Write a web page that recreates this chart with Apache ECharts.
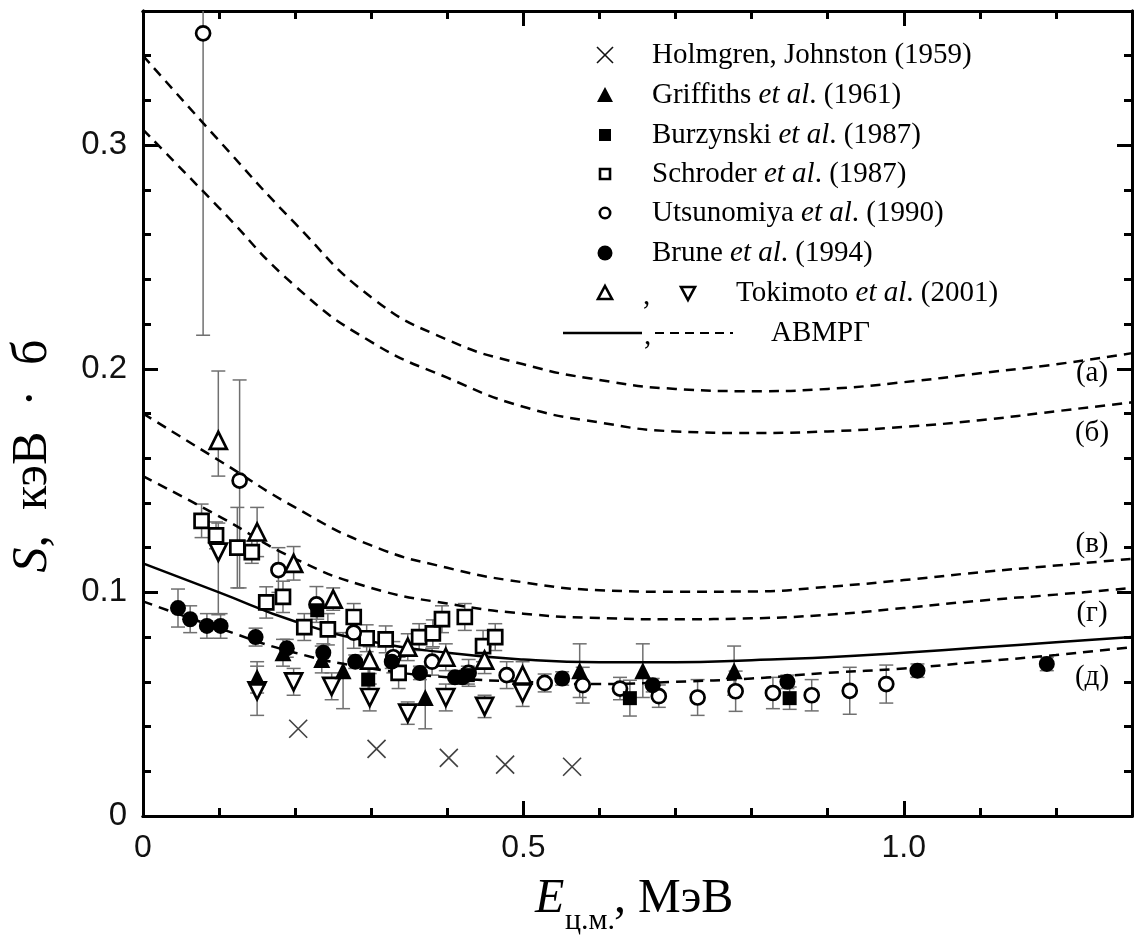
<!DOCTYPE html>
<html><head><meta charset="utf-8">
<script src="https://cdn.jsdelivr.net/npm/echarts@6/dist/echarts.min.js"></script>
<style>html,body{margin:0;padding:0;background:#fff}#c{width:1135px;height:936px}</style>
</head><body><div id="c"></div>
<script>
// ---- data: [E, S, err] or [E, S, errMinus, errPlus] ----
const holmgren = [[0.204,0.039],[0.307,0.030],[0.402,0.026],[0.476,0.023],[0.564,0.022]];
const griffiths = [[0.150,0.062,0.007],[0.184,0.073,0.006],[0.235,0.070,0.006],[0.263,0.065,0.017],[0.371,0.053,0.014],[0.574,0.065,0.012],[0.657,0.065,0.012],[0.777,0.065,0.011]];
const burzynski = [[0.229,0.092,0.004],[0.296,0.061,0.005],[0.427,0.063,0.004],[0.640,0.0527,0.008],[0.850,0.0527,0.005]];
const schroder = [[0.077,0.132,0.0075],[0.096,0.1255,0.006],[0.124,0.120,0.018],[0.143,0.118,0.005],[0.162,0.0955,0.007],[0.184,0.098,0.007],[0.212,0.0845,0.006],[0.243,0.0835,0.007],[0.277,0.089,0.006],[0.294,0.0795,0.006],[0.319,0.079,0.006],[0.336,0.064,0.007],[0.363,0.080,0.006],[0.381,0.0817,0.006],[0.393,0.088,0.006],[0.423,0.089,0.006],[0.447,0.076,0.007],[0.463,0.080,0.006]];
const utsunomiya = [[0.079,0.350,0.135],[0.127,0.150,0.048,0.045],[0.178,0.110,0.010],[0.228,0.0946,0.008],[0.277,0.082,0.007],[0.329,0.071,0.007],[0.380,0.069,0.006],[0.428,0.064,0.006],[0.478,0.063,0.006],[0.528,0.0595,0.004],[0.578,0.0585,0.008],[0.627,0.057,0.005],[0.678,0.0536,0.005],[0.729,0.053,0.008],[0.779,0.0558,0.009],[0.828,0.055,0.007],[0.879,0.054,0.007],[0.929,0.056,0.0105],[0.977,0.059,0.0085]];
const brune = [[0.046,0.093,0.0085],[0.062,0.088,0.006],[0.084,0.085,0.0055],[0.102,0.085,0.0055],[0.148,0.080,0.004],[0.189,0.075,0.004],[0.237,0.073,0.004],[0.279,0.069,0.003],[0.327,0.069,0.003],[0.364,0.064,0.003],[0.410,0.062,0.003],[0.420,0.062,0.003],[0.551,0.0615,0.003],[0.670,0.0585,0.003],[0.847,0.060,0.003],[1.018,0.065,0.003],[1.188,0.068,0.003]];
const tokimotoUp = [[0.099,0.168,0.016,0.031],[0.150,0.127,0.011],[0.198,0.113,0.0075],[0.250,0.097,0.005],[0.298,0.0697,0.006],[0.348,0.0755,0.006],[0.398,0.071,0.006],[0.449,0.0697,0.006],[0.499,0.063,0.006]];
const tokimotoDown = [[0.099,0.118,0.028,0.013],[0.150,0.056,0.011],[0.198,0.060,0.006],[0.248,0.058,0.006],[0.298,0.053,0.006],[0.348,0.046,0.005],[0.398,0.053,0.006],[0.449,0.049,0.005],[0.499,0.055,0.006]];

// ---- model curves (read every 0.1 MeV) ----
const curveE = [0,0.1,0.2,0.3,0.4,0.5,0.6,0.7,0.8,0.9,1.0,1.1,1.2,1.3];
const curveA = [0.340,0.302,0.265,0.232,0.213,0.202,0.195,0.191,0.190,0.191,0.194,0.198,0.202,0.207];
const curveB = [0.307,0.272,0.237,0.212,0.196,0.183,0.176,0.172,0.1713,0.172,0.174,0.177,0.181,0.185];
const curveV = [0.180,0.159,0.138,0.121,0.111,0.1045,0.101,0.1003,0.1004,0.1025,0.1055,0.109,0.112,0.115];
const curveG = [0.152,0.134,0.115,0.102,0.095,0.0905,0.0885,0.088,0.0884,0.090,0.093,0.0963,0.099,0.102];
const curveSolid = [0.113,0.100,0.087,0.078,0.073,0.070,0.0688,0.0688,0.0697,0.071,0.073,0.0753,0.0777,0.080];
const curveD = [0.096,0.084,0.073,0.066,0.062,0.060,0.059,0.060,0.0615,0.064,0.066,0.069,0.072,0.0755];

const xTickValues = [0, 0.5, 1.0];
const xTickLabels = ['0', '0.5', '1.0'];
const yTickValues = [0, 0.1, 0.2, 0.3];
const yTickLabels = ['0', '0.1', '0.2', '0.3'];
const curveLabels = ['(а)', '(б)', '(в)', '(г)', '(д)'];
const legendNames = ['Holmgren, Johnston (1959)', 'Griffiths {i|et al}. (1961)', 'Burzynski {i|et al}. (1987)', 'Schroder {i|et al}. (1987)', 'Utsunomiya {i|et al}. (1990)', 'Brune {i|et al}. (1994)', 'Tokimoto {i|et al}. (2001)', 'АВМРГ'];

const X_MIN = 0, X_MAX = 1.3, Y_MIN = 0, Y_MAX = 0.36;

function lookupLabel(vals, labels) {
  return function (v) {
    for (let i = 0; i < vals.length; i++) if (Math.abs(v - vals[i]) < 1e-9) return labels[i];
    return '';
  };
}
function errRows(arr) {
  return arr.map(d => {
    const lo = d[2], hi = d.length > 3 ? d[3] : d[2];
    return [d[0], d[1] - lo, d[1] + hi];
  });
}
const allErr = [].concat(errRows(griffiths), errRows(burzynski), errRows(schroder), errRows(utsunomiya), errRows(brune), errRows(tokimotoUp), errRows(tokimotoDown));

const serif = 'Liberation Serif';
const sans = 'Liberation Sans';
const axisLineStyle = { color: '#000', width: 3 };

function mkX(pos, interval, len, labels) {
  return {
    type: 'value', min: X_MIN, max: X_MAX, interval: interval, position: pos,
    axisLine: { show: true, onZero: false, lineStyle: axisLineStyle },
    axisTick: { show: true, inside: true, length: len, lineStyle: { color: '#000', width: 3 } },
    axisLabel: labels ? { show: true, formatter: lookupLabel(xTickValues, xTickLabels), fontFamily: sans, fontSize: 32, color: '#111', margin: 16 } : { show: false },
    splitLine: { show: false }
  };
}
function mkY(pos, interval, len, labels) {
  return {
    type: 'value', min: Y_MIN, max: Y_MAX, interval: interval, position: pos,
    axisLine: { show: true, onZero: false, lineStyle: axisLineStyle },
    axisTick: { show: true, inside: true, length: len, lineStyle: { color: '#000', width: 3 } },
    axisLabel: labels ? { show: true, formatter: lookupLabel(yTickValues, yTickLabels), fontFamily: sans, fontSize: 33, color: '#111', margin: 16 } : { show: false },
    splitLine: { show: false }
  };
}

function curveSeries(arr, dashed) {
  return {
    type: 'line', xAxisIndex: 0, yAxisIndex: 0, smooth: 0.5, symbol: 'none', z: 2,
    data: curveE.map((e, i) => [e, arr[i]]),
    lineStyle: { color: '#000', width: 2.5, type: dashed ? [10, 7] : 'solid' },
    silent: true, animation: false
  };
}
function scatter(arr, symbol, size, filled, rotate) {
  return {
    type: 'scatter', xAxisIndex: 0, yAxisIndex: 0, symbol: symbol, symbolSize: size, symbolRotate: rotate || 0, z: 4,
    data: arr.map(d => [d[0], d[1]]),
    itemStyle: filled ? { color: '#000', borderWidth: 0, opacity: 1 } : { color: '#fff', borderColor: '#000', borderWidth: 2.7, opacity: 1 },
    silent: true, animation: false
  };
}

const series = [
  {
    type: 'custom', xAxisIndex: 0, yAxisIndex: 0, z: 1, silent: true, animation: false,
    data: allErr, encode: { x: 0, y: [1, 2] },
    renderItem: function (params, api) {
      const x = api.value(0), lo = api.value(1), hi = api.value(2);
      const hiC = Math.min(hi, Y_MAX);
      const p1 = api.coord([x, lo]), p2 = api.coord([x, hiC]);
      const w = 7;
      const st = { stroke: '#707070', lineWidth: 1.5 };
      const ch = [
        { type: 'line', shape: { x1: p1[0], y1: p1[1], x2: p2[0], y2: p2[1] }, style: st },
        { type: 'line', shape: { x1: p1[0] - w, y1: p1[1], x2: p1[0] + w, y2: p1[1] }, style: st }
      ];
      if (hi <= Y_MAX) ch.push({ type: 'line', shape: { x1: p2[0] - w, y1: p2[1], x2: p2[0] + w, y2: p2[1] }, style: st });
      return { type: 'group', children: ch };
    }
  },
  curveSeries(curveA, true), curveSeries(curveB, true), curveSeries(curveV, true),
  curveSeries(curveG, true), curveSeries(curveSolid, false), curveSeries(curveD, true),
  {
    type: 'scatter', xAxisIndex: 0, yAxisIndex: 0, symbol: 'path://M0,0L10,10M10,0L0,10', symbolSize: 18, z: 4,
    data: holmgren, itemStyle: { color: 'rgba(0,0,0,0)', borderColor: '#111', borderWidth: 1.6 }, silent: true, animation: false
  },
  scatter(schroder, 'rect', 14, false),
  scatter(utsunomiya, 'circle', 14, false),
  scatter(tokimotoUp, 'triangle', 17, false),
  scatter(tokimotoDown, 'triangle', 17, false, 180),
  scatter(brune, 'circle', 16, true),
  scatter(burzynski, 'rect', 14, true),
  scatter(griffiths, 'triangle', 17, true)
];

// ---- legend (drawn as graphic) ----
const LX = 605, TX = 652;
const rowY = [55, 95, 135, 174, 213, 253, 293, 333];
const g = [];
const tStyle = (txt, x, y) => ({
  type: 'text', x: x, y: y, silent: true,
  style: { text: txt, fontFamily: serif, fontSize: 29, fill: '#000', verticalAlign: 'middle', align: 'left',
    rich: { i: { fontFamily: serif, fontSize: 29, fontStyle: 'italic', fill: '#000' } } }
});
// ×
g.push({ type: 'line', shape: { x1: LX - 8, y1: rowY[0] - 8, x2: LX + 8, y2: rowY[0] + 8 }, style: { stroke: '#111', lineWidth: 1.6 } });
g.push({ type: 'line', shape: { x1: LX + 8, y1: rowY[0] - 8, x2: LX - 8, y2: rowY[0] + 8 }, style: { stroke: '#111', lineWidth: 1.6 } });
// ▲
g.push({ type: 'polygon', shape: { points: [[LX, rowY[1] - 8], [LX + 8, rowY[1] + 7], [LX - 8, rowY[1] + 7]] }, style: { fill: '#000' } });
// ■
g.push({ type: 'rect', shape: { x: LX - 6, y: rowY[2] - 6, width: 12, height: 12 }, style: { fill: '#000' } });
// □
g.push({ type: 'rect', shape: { x: LX - 5, y: rowY[3] - 5, width: 10, height: 10 }, style: { fill: '#fff', stroke: '#000', lineWidth: 2.6 } });
// ○
g.push({ type: 'circle', shape: { cx: LX, cy: rowY[4], r: 5.2 }, style: { fill: '#fff', stroke: '#000', lineWidth: 2.6 } });
// ●
g.push({ type: 'circle', shape: { cx: LX, cy: rowY[5], r: 7.5 }, style: { fill: '#000' } });
// △ , ▽
g.push({ type: 'polygon', shape: { points: [[LX, rowY[6] - 7], [LX + 7, rowY[6] + 6], [LX - 7, rowY[6] + 6]] }, style: { fill: '#fff', stroke: '#000', lineWidth: 2.6 } });
g.push({ type: 'polygon', shape: { points: [[688, rowY[6] + 7], [695, rowY[6] - 6], [681, rowY[6] - 6]] }, style: { fill: '#fff', stroke: '#000', lineWidth: 2.6 } });
g.push(tStyle(',', 643, rowY[6] + 3));
// lines
g.push({ type: 'line', shape: { x1: 563, y1: rowY[7], x2: 642, y2: rowY[7] }, style: { stroke: '#000', lineWidth: 2.5 } });
g.push(tStyle(',', 644, rowY[7] + 3));
g.push({ type: 'line', shape: { x1: 655, y1: rowY[7], x2: 733, y2: rowY[7] }, style: { stroke: '#000', lineWidth: 2.2, lineDash: [9, 6] } });
for (let i = 0; i < 6; i++) g.push(tStyle(legendNames[i], TX, rowY[i]));
g.push(tStyle(legendNames[6], 736, rowY[6]));
g.push(tStyle(legendNames[7], 771, rowY[7]));

// curve labels
const clY = [373, 433, 544, 613, 677];
curveLabels.forEach((t, i) => {
  g.push({ type: 'text', x: 1092, y: clY[i], silent: true,
    style: { text: t, fontFamily: serif, fontSize: 29, fill: '#000', align: 'center', verticalAlign: 'middle' } });
});

// axis titles
g.push({ type: 'text', x: 535, y: 899, silent: true,
  style: { text: 'E', fontFamily: serif, fontSize: 48, fontStyle: 'italic', fill: '#000', align: 'left', verticalAlign: 'middle' } });
g.push({ type: 'text', x: 565, y: 921, silent: true,
  style: { text: 'ц.м.', fontFamily: serif, fontSize: 30, fill: '#000', align: 'left', verticalAlign: 'middle' } });
g.push({ type: 'text', x: 614, y: 899, silent: true,
  style: { text: ', МэВ', fontFamily: serif, fontSize: 48, fill: '#000', align: 'left', verticalAlign: 'middle' } });
g.push({ type: 'text', x: 33, y: 456, rotation: Math.PI / 2, silent: true,
  style: { text: '{i|S},  кэВ  ·  б', fontFamily: serif, fontSize: 50, fill: '#000', align: 'center', verticalAlign: 'middle',
    rich: { i: { fontFamily: serif, fontSize: 50, fontStyle: 'italic', fill: '#000' } } } });

const chart = echarts.init(document.getElementById('c'), null, { renderer: 'canvas' });
chart.setOption({
  backgroundColor: '#fff',
  animation: false,
  grid: { left: 143, right: 2, top: 11, bottom: 120, containLabel: false },
  xAxis: [mkX('bottom', 0.5, 15, true), mkX('bottom', 0.1, 8, false), mkX('top', 0.5, 15, false), mkX('top', 0.1, 8, false)],
  yAxis: [mkY('left', 0.1, 15, true), mkY('left', 0.02, 8, false), mkY('right', 0.1, 15, false), mkY('right', 0.02, 8, false)],
  series: series,
  graphic: g
});
</script></body></html>
